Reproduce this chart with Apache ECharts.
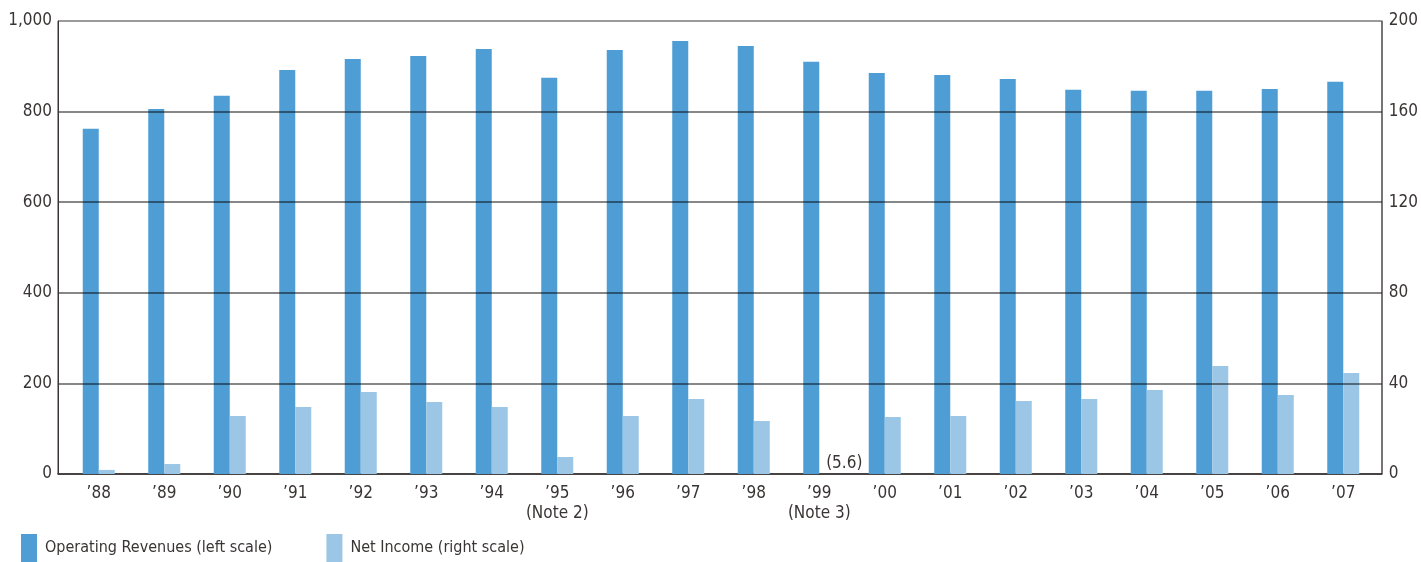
<!DOCTYPE html>
<html>
<head>
<meta charset="utf-8">
<script src="https://cdn.jsdelivr.net/npm/echarts@6/dist/echarts.min.js"></script>
<style>
  html, body { margin: 0; padding: 0; background: #fff; }
  #chart { width: 1421px; height: 562px; }
</style>
</head>
<body>
<div id="chart"></div>
<script>
// Fiscal years (two-digit) and footnote markers under some of them
const years = ['88', '89', '90', '91', '92', '93', '94', '95', '96', '97',
               '98', '99', '00', '01', '02', '03', '04', '05', '06', '07'];
const yearNotes = { '95': '(Note 2)', '99': '(Note 3)' };

// Operating revenues (left scale)
const operatingRevenues = [762, 806, 835, 892, 916, 923, 938, 875, 936, 956,
                           945, 910, 885, 881, 872, 848, 846, 846, 850, 866];
// Net income (right scale); the '99 loss is shown only as a bracketed label
const netIncome = [1.8, 4.4, 25.6, 29.6, 36.2, 31.8, 29.6, 7.5, 25.6, 33.1,
                   23.4, -5.6, 25.2, 25.6, 32.2, 33.1, 37.1, 47.7, 34.9, 44.6];

const leftTicks = { min: 0, max: 1000, interval: 200 };
const rightTicks = { min: 0, max: 200, interval: 40 };

const FONT = "'DejaVu Sans Condensed', 'Liberation Sans Narrow', Roboto, sans-serif";
const TEXT = '#3a3535';
const DARK_BLUE = '#4e9dd4';
const LIGHT_BLUE = '#9bc6e5';
const GRID_LINE = 'rgba(0,0,0,0.47)';

const categories = years.map(y => '\u2019' + y + (yearNotes[y] ? '\n' + yearNotes[y] : ''));

const chart = echarts.init(document.getElementById('chart'), null, { renderer: 'canvas' });

chart.setOption({
  animation: false,
  backgroundColor: '#fff',
  textStyle: { fontFamily: FONT, color: TEXT },
  grid: [
    // frame with both value axes
    { left: 58, right: 38, top: 21, bottom: 88, show: true, borderColor: '#3b3434', borderWidth: 1 },
    // inner band that holds the year categories
    { left: 66, right: 45, top: 21, bottom: 88 }
  ],
  legend: {
    left: 21,
    top: 534,
    padding: 0,
    icon: 'rect',
    itemWidth: 16,
    itemHeight: 28,
    itemGap: 54,
    textStyle: { fontFamily: FONT, fontSize: 16, color: TEXT, padding: [6, 0, 0, 3] },
    data: ['Operating Revenues (left scale)', 'Net Income (right scale)']
  },
  xAxis: [
    {
      gridIndex: 0, type: 'category', data: [''],
      axisLine: { show: true, lineStyle: { color: '#2e2929', width: 1.5 } },
      axisTick: { show: false }, axisLabel: { show: false }, splitLine: { show: false }
    },
    {
      gridIndex: 1, type: 'category', data: categories,
      axisLine: { show: false }, axisTick: { show: false },
      axisLabel: {
        fontFamily: FONT, fontSize: 17, color: TEXT, margin: 10, lineHeight: 20,
        interval: 0
      }
    }
  ],
  yAxis: [
    {
      gridIndex: 0, type: 'value', position: 'left', z: 5,
      min: leftTicks.min, max: leftTicks.max, interval: leftTicks.interval,
      axisLine: { show: true, lineStyle: { color: '#3b3434', width: 1 } },
      axisTick: { show: false },
      axisLabel: {
        fontFamily: FONT, fontSize: 17, color: TEXT, margin: 6,
        formatter: v => v.toLocaleString('en-US')
      },
      splitLine: {
        show: true,
        lineStyle: {
          width: 2,
          color: ['rgba(0,0,0,0)', GRID_LINE, GRID_LINE, GRID_LINE, GRID_LINE, 'rgba(0,0,0,0)']
        }
      }
    },
    {
      gridIndex: 0, type: 'value', position: 'right', z: 5,
      min: rightTicks.min, max: rightTicks.max, interval: rightTicks.interval,
      axisLine: { show: true, lineStyle: { color: '#7a7676', width: 1 } },
      axisTick: { show: false },
      axisLabel: { fontFamily: FONT, fontSize: 17, color: TEXT, margin: 7 },
      splitLine: { show: false }
    },
    { gridIndex: 1, type: 'value', show: false,
      min: leftTicks.min, max: leftTicks.max, interval: leftTicks.interval, splitLine: { show: false } },
    { gridIndex: 1, type: 'value', show: false,
      min: rightTicks.min, max: rightTicks.max, interval: rightTicks.interval, splitLine: { show: false } }
  ],
  series: [
    {
      name: 'Operating Revenues (left scale)',
      type: 'bar',
      xAxisIndex: 1, yAxisIndex: 2,
      barWidth: 16, barGap: '0%',
      itemStyle: { color: DARK_BLUE },
      data: operatingRevenues
    },
    {
      name: 'Net Income (right scale)',
      type: 'bar',
      xAxisIndex: 1, yAxisIndex: 3,
      barWidth: 16, barGap: '0%',
      itemStyle: { color: LIGHT_BLUE },
      data: netIncome,
      markPoint: {
        symbol: 'rect',
        symbolSize: 0,
        data: netIncome
          .map((v, i) => ({ v, i }))
          .filter(d => d.v < 0)
          .map(d => ({ coord: [d.i, 0], value: d.v })),
        label: {
          show: true,
          position: 'top',
          distance: 2,
          offset: [17, 0],
          fontFamily: FONT,
          fontSize: 17,
          color: TEXT,
          formatter: p => '(' + Math.abs(p.value).toFixed(1) + ')'
        }
      }
    }
  ]
});
</script>
</body>
</html>
